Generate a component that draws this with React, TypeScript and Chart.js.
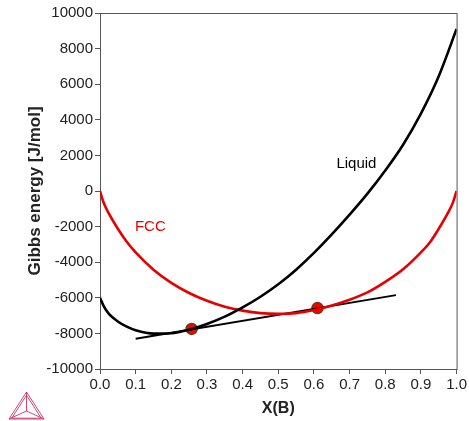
import React, { useEffect, useRef } from "react";
import { Chart, registerables } from "chart.js";

Chart.register(...registerables);

// Liquid Gibbs energy curve
const liquidX = [0, 0.01, 0.025, 0.05, 0.075, 0.1, 0.15, 0.2, 0.25, 0.3, 0.35, 0.4, 0.45, 0.5, 0.55, 0.6, 0.65, 0.7, 0.75, 0.8, 0.85, 0.9, 0.95, 1.0];
const liquidG = [-6000, -6450, -6900, -7330, -7620, -7820, -8010, -7990, -7790, -7470, -7060, -6540, -5940, -5240, -4420, -3480, -2440, -1330, -150, 1150, 2600, 4350, 6450, 9100];

// FCC Gibbs energy curve
const fccX = [0, 0.01, 0.025, 0.05, 0.075, 0.1, 0.15, 0.2, 0.25, 0.3, 0.35, 0.4, 0.45, 0.5, 0.55, 0.6, 0.65, 0.7, 0.75, 0.8, 0.85, 0.9, 0.925, 0.95, 0.975, 0.99, 1.0];
const fccG = [0, -650, -1270, -2120, -2850, -3450, -4420, -5160, -5730, -6170, -6500, -6720, -6860, -6900, -6860, -6690, -6430, -6110, -5700, -5110, -4400, -3450, -2890, -2120, -1260, -640, 0];

// Common tangent line
const tangentX = [0.1, 0.83];
const tangentG = [-8300, -5850];

// Equilibrium points
const eqX = [0.257, 0.61];
const eqG = [-7750, -6580];

// Axis ticks
const yTicks = [-10000, -8000, -6000, -4000, -2000, 0, 2000, 4000, 6000, 8000, 10000];
const xTicks = [0, 0.1, 0.2, 0.3, 0.4, 0.5, 0.6, 0.7, 0.8, 0.9, 1.0];

// Curve labels
const curveLabels = [
  { text: "FCC", x: 0.098, y: -2000, color: "#e60000" },
  { text: "Liquid", x: 0.663, y: 1530, color: "#000000" },
];

const FONT = "'Liberation Sans', Arial, sans-serif";

const toPts = (xs: number[], ys: number[]) => xs.map((x, i) => ({ x, y: ys[i] }));

const framePlugin = {
  id: "frame",
  beforeDatasetsDraw(chart: any) {
    const { ctx, chartArea } = chart;
    ctx.save();
    ctx.strokeStyle = "#555";
    ctx.lineWidth = 1;
    ctx.strokeRect(chartArea.left + 0.5, chartArea.top + 0.5, chartArea.right - chartArea.left, chartArea.bottom - chartArea.top);
    ctx.restore();
  },
  afterDatasetsDraw(chart: any) {
    const { ctx, scales } = chart;
    ctx.save();
    ctx.font = `15px ${FONT}`;
    ctx.textBaseline = "middle";
    ctx.textAlign = "left";
    curveLabels.forEach((l) => {
      ctx.fillStyle = l.color;
      ctx.fillText(l.text, scales.x.getPixelForValue(l.x), scales.y.getPixelForValue(l.y));
    });
    ctx.restore();
  },
  afterDraw(chart: any) {
    // small triangular logo at bottom left
    const { ctx } = chart;
    ctx.save();
    ctx.strokeStyle = "#c8336a";
    ctx.lineWidth = 0.9;
    const ax = 26.5, ay = 392, bl = [9, 419], br = [44, 419], c = [26.5, 411];
    const tri = (dx: number) => {
      ctx.beginPath();
      ctx.moveTo(ax, ay + dx * 2);
      ctx.lineTo(bl[0] + dx * 1.7, bl[1] - dx * 0.5);
      ctx.lineTo(br[0] - dx * 1.7, br[1] - dx * 0.5);
      ctx.closePath();
      ctx.stroke();
    };
    tri(0);
    tri(1.6);
    ctx.beginPath();
    ctx.moveTo(ax, ay);
    ctx.lineTo(c[0], c[1]);
    ctx.lineTo(bl[0], bl[1]);
    ctx.moveTo(c[0], c[1]);
    ctx.lineTo(br[0], br[1]);
    ctx.stroke();
    ctx.restore();
  },
};

export default function App() {
  const ref = useRef<HTMLCanvasElement | null>(null);
  useEffect(() => {
    if (!ref.current) return;
    const chart = new Chart(ref.current, {
      type: "line",
      data: {
        datasets: [
          {
            label: "Liquid",
            data: toPts(liquidX, liquidG),
            borderColor: "#000",
            borderWidth: 2.6,
            pointRadius: 0,
            cubicInterpolationMode: "monotone",
            fill: false,
          },
          {
            label: "FCC",
            data: toPts(fccX, fccG),
            borderColor: "#e60000",
            borderWidth: 2.6,
            pointRadius: 0,
            cubicInterpolationMode: "monotone",
            fill: false,
          },
          {
            label: "Tangent",
            data: toPts(tangentX, tangentG),
            borderColor: "#000",
            borderWidth: 1.8,
            pointRadius: 0,
            tension: 0,
            fill: false,
          },
          {
            label: "Equilibrium",
            data: toPts(eqX, eqG),
            showLine: false,
            pointRadius: 5.5,
            pointBackgroundColor: "#ff0000",
            pointBorderColor: "#6b3a12",
            pointBorderWidth: 1.5,
          },
        ],
      },
      options: {
        responsive: false,
        animation: false,
        events: [],
        layout: { padding: { left: 0, right: 11, top: 13, bottom: 0 } },
        plugins: { legend: { display: false }, tooltip: { enabled: false } },
        scales: {
          x: {
            type: "linear",
            min: 0,
            max: 1,
            afterBuildTicks: (s: any) => {
              s.ticks = xTicks.map((v) => ({ value: v }));
            },
            afterFit: (s: any) => {
              s.height = 52;
            },
            ticks: {
              color: "#222",
              font: { family: FONT, size: 15 },
              padding: 2,
              maxRotation: 0,
              autoSkip: false,
              callback: (v: any) => Number(v).toFixed(1),
            },
            grid: { display: true, drawOnChartArea: false, drawTicks: true, tickLength: 5, color: "#555" },
            border: { display: true, color: "#555" },
            title: {
              display: true,
              text: "X(B)",
              color: "#222",
              font: { family: FONT, size: 16, weight: "bold" },
              padding: { top: 0, bottom: 3 },
            },
          },
          y: {
            type: "linear",
            min: -10000,
            max: 10000,
            afterBuildTicks: (s: any) => {
              s.ticks = yTicks.map((v) => ({ value: v }));
            },
            afterFit: (s: any) => {
              s.width = 100;
            },
            ticks: {
              color: "#222",
              font: { family: FONT, size: 15 },
              padding: 2,
              autoSkip: false,
              callback: (v: any) => String(v),
            },
            grid: { display: true, drawOnChartArea: false, drawTicks: true, tickLength: 5, color: "#555" },
            border: { display: true, color: "#555" },
            title: {
              display: true,
              text: "Gibbs energy [J/mol]",
              color: "#222",
              font: { family: FONT, size: 17, weight: "bold" },
              padding: { top: 25, bottom: 0 },
            },
          },
        },
      },
      plugins: [framePlugin],
    } as any);
    return () => chart.destroy();
  }, []);
  return (
    <div style={{ position: "absolute", left: 0, top: 0, width: 469, height: 421, background: "#fff" }}>
      <canvas ref={ref} width={469} height={421} style={{ width: 469, height: 421, display: "block" }} />
    </div>
  );
}
